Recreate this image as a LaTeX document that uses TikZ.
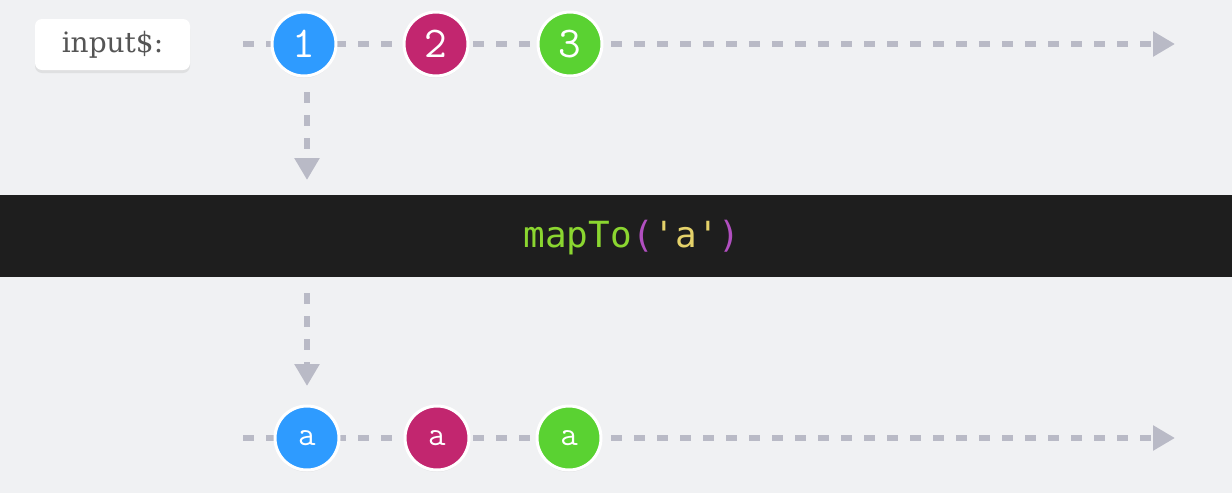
\documentclass[tikz,border=0pt]{standalone}
\usepackage{fontspec}
\newfontfamily\codefont{DejaVu Sans Mono}
\newfontfamily\labelfont{DejaVu Serif}
\usetikzlibrary{arrows.meta,shadows}
\definecolor{bgc}{HTML}{F0F1F3}
\definecolor{linec}{HTML}{B9BAC6}
\definecolor{bluec}{HTML}{2E9BFF}
\definecolor{magc}{HTML}{C2266F}
\definecolor{greenc}{HTML}{5AD232}
\definecolor{bandc}{HTML}{1E1E1E}
\definecolor{codegreen}{HTML}{8BD630}
\definecolor{codepurple}{HTML}{B14FC0}
\definecolor{codeyellow}{HTML}{E5D26A}
\definecolor{labeltext}{HTML}{555555}
\tikzset{
  flow/.style={line width=6pt, linec, dash pattern=on 11pt off 12pt,
    -{Triangle[length=22pt,width=24pt,sep=2pt]}},
  marble/.style={circle, minimum size=64pt, inner sep=0pt, draw=white,
    line width=3pt, text=white, font=\ttfamily\fontsize{44}{44}\selectfont,
    drop shadow={shadow xshift=0pt, shadow yshift=-2pt, opacity=0.12}},
  smallmarble/.style={marble, font=\ttfamily\fontsize{34}{34}\selectfont},
  labelbox/.style={rounded corners=7pt, fill=white, minimum width=155pt,
    minimum height=51pt, font=\labelfont\fontsize{28}{28}\selectfont,
    text=labeltext, drop shadow={shadow xshift=0pt, shadow yshift=-3pt, opacity=0.15}}
}
\begin{document}
\begin{tikzpicture}[x=1pt,y=-1pt]
\fill[bgc] (0,0) rectangle (1232,493);
\useasboundingbox (0,0) rectangle (1232,493);
% label
\node[labelbox] (lbl) at (112.5,44.5) {input\$:};
% top line
\coordinate (t0) at (243,44);
\coordinate (t1) at (1177,44);
\draw[flow] (t0) -- (t1);
\node[marble, fill=bluec] (n1) at (304,44) {1};
\node[marble, fill=magc] (n2) at (436,44) {2};
\node[marble, fill=greenc] (n3) at (570,44) {3};
% down arrow 1
\coordinate (d0) at (307,92);
\coordinate (d1) at (307,182);
\draw[flow] (d0) -- (d1);
% band
\fill[bandc] (0,195) rectangle (1232,277);
\node[font=\codefont\fontsize{36}{36}\selectfont, inner sep=0pt] (op) at (632,238)
  {\textcolor{codegreen}{mapTo}\textcolor{codepurple}{(}\textcolor{codeyellow}{'a'}\textcolor{codepurple}{)}};
% down arrow 2
\coordinate (e0) at (307,293);
\coordinate (e1) at (307,388);
\draw[flow] (e0) -- (e1);
% bottom line
\coordinate (b0) at (243,438);
\coordinate (b1) at (1177,438);
\draw[flow] (b0) -- (b1);
\node[smallmarble, fill=bluec] (m1) at (307,438) {a};
\node[smallmarble, fill=magc] (m2) at (437,438) {a};
\node[smallmarble, fill=greenc] (m3) at (569,438) {a};
\end{tikzpicture}
\end{document}
